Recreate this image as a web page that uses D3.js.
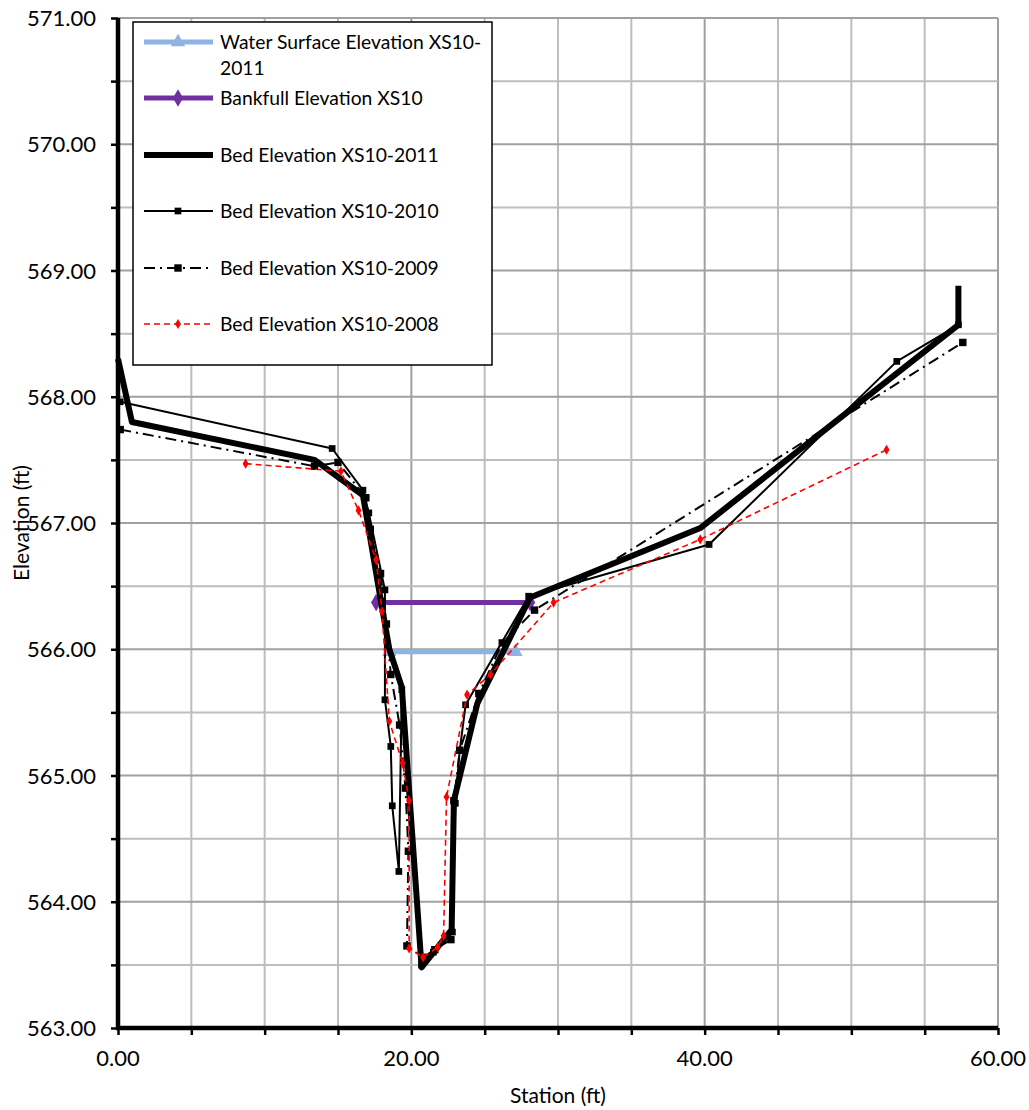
<!DOCTYPE html>
<html><head><meta charset="utf-8">
<script src="https://cdn.jsdelivr.net/npm/d3@7"></script>
<style>body{margin:0;background:#fff}svg{display:block}text{font-family:Lato,"Noto Sans",sans-serif;fill:#000}</style>
</head><body><svg id="c" width="1029" height="1110"></svg>
<script>
const xTicks = [0, 20, 40, 60];
const yTicks = [563, 564, 565, 566, 567, 568, 569, 570, 571];
const seriesNames = ["Water Surface Elevation XS10-2011", "Bankfull Elevation XS10", "Bed Elevation XS10-2011", "Bed Elevation XS10-2010", "Bed Elevation XS10-2009", "Bed Elevation XS10-2008"];
const waterSurface = [[18.5, 565.98], [27.1, 565.98]];
const bankfull = [[17.6, 566.37], [28.1, 566.37]];
const bed2011 = [[0, 568.3], [0.95, 567.8], [13.4, 567.5], [16.7, 567.22], [17.9, 566.4], [18.5, 566.0], [19.35, 565.7], [20.7, 563.48], [22.75, 563.78], [22.9, 564.8], [24.5, 565.57], [28.1, 566.41], [39.7, 566.96], [57.3, 568.57], [57.3, 568.88]];
const bed2010 = [[0.15, 567.96], [14.6, 567.59], [16.7, 567.26], [17.1, 567.08], [18.2, 566.47], [18.2, 565.6], [18.6, 565.23], [18.7, 564.76], [19.15, 564.24], [19.35, 565.68], [20.7, 563.5], [21.5, 563.6], [22.8, 563.76], [23.0, 564.78], [23.3, 565.2], [23.7, 565.56], [28.0, 566.42], [40.3, 566.83], [53.1, 568.28], [57.3, 568.57]];
const bed2009 = [[0.15, 567.74], [13.4, 567.45], [15.0, 567.48], [16.9, 567.2], [17.2, 566.95], [17.9, 566.6], [18.3, 566.2], [18.6, 565.8], [19.2, 565.4], [19.6, 564.9], [19.8, 564.4], [19.7, 563.65], [20.8, 563.56], [21.6, 563.62], [22.7, 563.70], [22.9, 564.8], [23.3, 565.2], [24.6, 565.65], [26.2, 566.05], [28.4, 566.31], [57.6, 568.43]];
const bed2008 = [[8.7, 567.47], [15.2, 567.41], [16.4, 567.1], [17.6, 566.71], [18.0, 566.3], [18.5, 565.43], [19.4, 565.1], [19.85, 564.8], [19.85, 563.63], [20.8, 563.56], [21.8, 563.64], [22.2, 563.73], [22.4, 564.83], [23.8, 565.64], [25.4, 565.8], [29.7, 566.37], [39.7, 566.87], [52.4, 567.58]];

const svg = d3.select("#c");
const L = 118, R = 998, T = 18, B = 1028;
const x = d3.scaleLinear().domain([0, 60]).range([L, R]);
const y = d3.scaleLinear().domain([563, 571]).range([B, T]);

// gridlines
const g = svg.append("g");
d3.range(0, 60.01, 5).forEach(v => {
  g.append("line").attr("x1", x(v)).attr("x2", x(v)).attr("y1", T).attr("y2", B)
    .attr("stroke", v % 20 === 0 ? "#a0a0a0" : "#bdbdbd").attr("stroke-width", 2);
});
d3.range(563, 571.01, 0.5).forEach(v => {
  g.append("line").attr("x1", L).attr("x2", R).attr("y1", y(v)).attr("y2", y(v))
    .attr("stroke", Number.isInteger(v) ? "#a0a0a0" : "#bdbdbd").attr("stroke-width", 2);
});

// axes
const xAxis = d3.axisBottom(x).tickValues(d3.range(0, 60.01, 5)).tickSize(7).tickFormat("");
const yAxis = d3.axisLeft(y).tickValues(d3.range(563, 571.01, 0.5)).tickSize(7).tickFormat("");
const ga = svg.append("g").attr("transform", `translate(0,${B})`).call(xAxis);
const gy = svg.append("g").attr("transform", `translate(${L},0)`).call(yAxis);
[ga, gy].forEach(a => { a.select(".domain").attr("stroke", "#000").attr("stroke-width", 4.5); a.selectAll(".tick line").attr("stroke", "#000").attr("stroke-width", 2.5); });
ga.select(".domain").attr("d", `M${L - 2},0H${R}`);
gy.select(".domain").attr("d", `M0,${T}V${B + 2}`);

svg.append("g").selectAll("text").data(xTicks).join("text")
  .attr("x", d => x(d)).attr("y", 1066).attr("text-anchor", "middle").attr("font-size", 22)
  .text(d => d.toFixed(2));
svg.append("g").selectAll("text").data(yTicks).join("text")
  .attr("x", 96).attr("y", d => y(d) + 8).attr("text-anchor", "end").attr("font-size", 22)
  .text(d => d.toFixed(2));
svg.append("text").attr("x", 558).attr("y", 1103).attr("text-anchor", "middle").attr("font-size", 21).text("Station (ft)");
svg.append("text").attr("transform", `translate(29,${523}) rotate(-90)`).attr("text-anchor", "middle").attr("font-size", 21).text("Elevation (ft)");

const line = d3.line().x(d => x(d[0])).y(d => y(d[1]));
const plot = svg.append("g");
function tri(sz) { return d3.symbol().type(d3.symbolTriangle).size(sz)(); }
function dia(sz) { return d3.symbol().type(d3.symbolDiamond).size(sz)(); }
function sq(sz) { return d3.symbol().type(d3.symbolSquare).size(sz)(); }

const styles = [
  { data: waterSurface, stroke: "#8EB4E3", w: 5, dash: null, marker: tri(90), mfill: "#8EB4E3" },
  { data: bankfull, stroke: "#7030A0", w: 5, dash: null, marker: dia(90), mfill: "#7030A0" },
  { data: bed2011, stroke: "#000", w: 6, dash: null, marker: null },
  { data: bed2010, stroke: "#000", w: 2, dash: null, marker: sq(45), mfill: "#000" },
  { data: bed2009, stroke: "#000", w: 2, dash: "11,5,2,5", marker: sq(55), mfill: "#000" },
  { data: bed2008, stroke: "#ff0000", w: 1.6, dash: "6,4", marker: dia(30), mfill: "#ff0000" }
];
styles.forEach(s => {
  const p = plot.append("path").datum(s.data).attr("d", line).attr("fill", "none")
    .attr("stroke", s.stroke).attr("stroke-width", s.w).attr("stroke-linejoin", "round");
  if (s.dash) p.attr("stroke-dasharray", s.dash);
  if (s.marker) plot.append("g").selectAll("path").data(s.data).join("path")
    .attr("d", s.marker).attr("transform", d => `translate(${x(d[0])},${y(d[1])})`).attr("fill", s.mfill);
});

// legend
const lg = svg.append("g");
lg.append("rect").attr("x", 133).attr("y", 22).attr("width", 359).attr("height", 343)
  .attr("fill", "#fff").attr("stroke", "#000").attr("stroke-width", 1.5);
const rowsY = [42, 98, 155, 211, 268, 324];
styles.forEach((s, i) => {
  const yy = rowsY[i];
  const l = lg.append("line").attr("x1", 144).attr("x2", 213).attr("y1", yy).attr("y2", yy)
    .attr("stroke", s.stroke).attr("stroke-width", s.w);
  if (s.dash) l.attr("stroke-dasharray", s.dash);
  if (s.marker) lg.append("path").attr("d", s.marker).attr("transform", `translate(178,${yy})`).attr("fill", s.mfill);
});
const labelLines = [["Water Surface Elevation XS10-", "2011"], ["Bankfull Elevation XS10"], ["Bed Elevation XS10-2011"], ["Bed Elevation XS10-2010"], ["Bed Elevation XS10-2009"], ["Bed Elevation XS10-2008"]];
labelLines.forEach((ls, i) => {
  ls.forEach((t, j) => {
    lg.append("text").attr("x", 220).attr("y", rowsY[i] + 7 + j * 26).attr("font-size", 19.3).text(t);
  });
});
</script></body></html>
